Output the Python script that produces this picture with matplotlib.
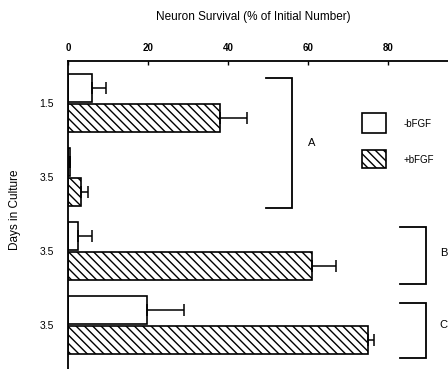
import matplotlib
matplotlib.use("Agg")
import matplotlib.pyplot as plt
from matplotlib.patches import Rectangle

plt.rcParams['font.family'] = ['Liberation Sans', 'DejaVu Sans']

# neuron survival, % of initial number
days = ['1.5', '3.5', '3.5', '3.5']
groups = ['', 'A', 'B', 'C']
minus_bfgf = [6.0, 0.4, 2.5, 19.8]
minus_err = [3.5, 0.0, 3.5, 9.2]
plus_bfgf = [38.0, 3.2, 61.0, 75.0]
plus_err = [6.7, 1.8, 6.0, 1.4]
xticks = [0, 20, 40, 60, 80]

fig = plt.figure(figsize=(4.48, 3.69), dpi=100)
ax = fig.add_axes([68 / 448, 0.0, 1 - 68 / 448, 1 - 61 / 369])

pos = list(range(len(days)))
off = 0.2
h = 0.38
y_minus = [p - off for p in pos]
y_plus = [p + off for p in pos]

ax.barh(y_minus, minus_bfgf, height=h, color='white', edgecolor='black', linewidth=1.2)
ax.barh(y_plus, plus_bfgf, height=h, color='white', edgecolor='black', linewidth=1.2,
        hatch='\\\\\\\\')
ax.errorbar(minus_bfgf, y_minus, xerr=[[0] * len(pos), minus_err], fmt='none',
            ecolor='black', elinewidth=1.1, capsize=4, capthick=1.1)
ax.errorbar(plus_bfgf, y_plus, xerr=[[0] * len(pos), plus_err], fmt='none',
            ecolor='black', elinewidth=1.1, capsize=4, capthick=1.1)

ax.set_xlim(0, 95)
ax.set_ylim((369 - 103) / 74, (61 - 103) / 74)

ax.xaxis.tick_top()
ax.set_xticks(xticks)
ax.tick_params(axis='x', direction='in', length=3, width=1, labelsize=7, pad=6)
for t in ax.get_xticklabels():
    t.set_fontweight('bold')
ax.set_yticks(pos)
ax.set_yticklabels(days)
ax.tick_params(axis='y', length=0, labelsize=7.5, pad=10)
for s in ['right', 'bottom']:
    ax.spines[s].set_visible(False)
ax.spines['top'].set_linewidth(1.3)
ax.spines['left'].set_linewidth(1.3)

# group brackets
def bracket(x0, x1, y0, y1):
    ax.plot([x0, x1, x1, x0], [y0, y0, y1, y1], color='black', lw=1.3,
            clip_on=False, solid_joinstyle='miter')

bracket(49.5, 56, -0.34, 1.42)
bracket(83, 89.5, 1.68, 2.45)
bracket(83, 89.5, 2.70, 3.45)
ax.text(61, 0.54, groups[1], fontsize=8, ha='center', va='center')
fig.text(447 / 448, 1 - 253 / 369, groups[2], fontsize=8, ha='right', va='center')
fig.text(447 / 448, 1 - 325 / 369, groups[3], fontsize=8, ha='right', va='center')

# legend
ax.add_patch(Rectangle((73.5, 0.135), 6, 0.27, facecolor='white', edgecolor='black',
                       lw=1.2, clip_on=False))
ax.add_patch(Rectangle((73.5, 0.635), 6, 0.245, facecolor='white', edgecolor='black',
                       lw=1.2, hatch='\\\\\\\\', clip_on=False))
ax.text(84, 0.28, '-bFGF', fontsize=7, va='center')
ax.text(84, 0.77, '+bFGF', fontsize=7, va='center')

fig.text(253 / 448, 1 - 17 / 369, 'Neuron Survival (% of Initial Number)',
         fontsize=8.5, ha='center', va='center')
fig.text(15 / 448, 1 - 210 / 369, 'Days in Culture', fontsize=8.5, rotation=90,
         ha='center', va='center')

fig.savefig('out.png', dpi=100)
